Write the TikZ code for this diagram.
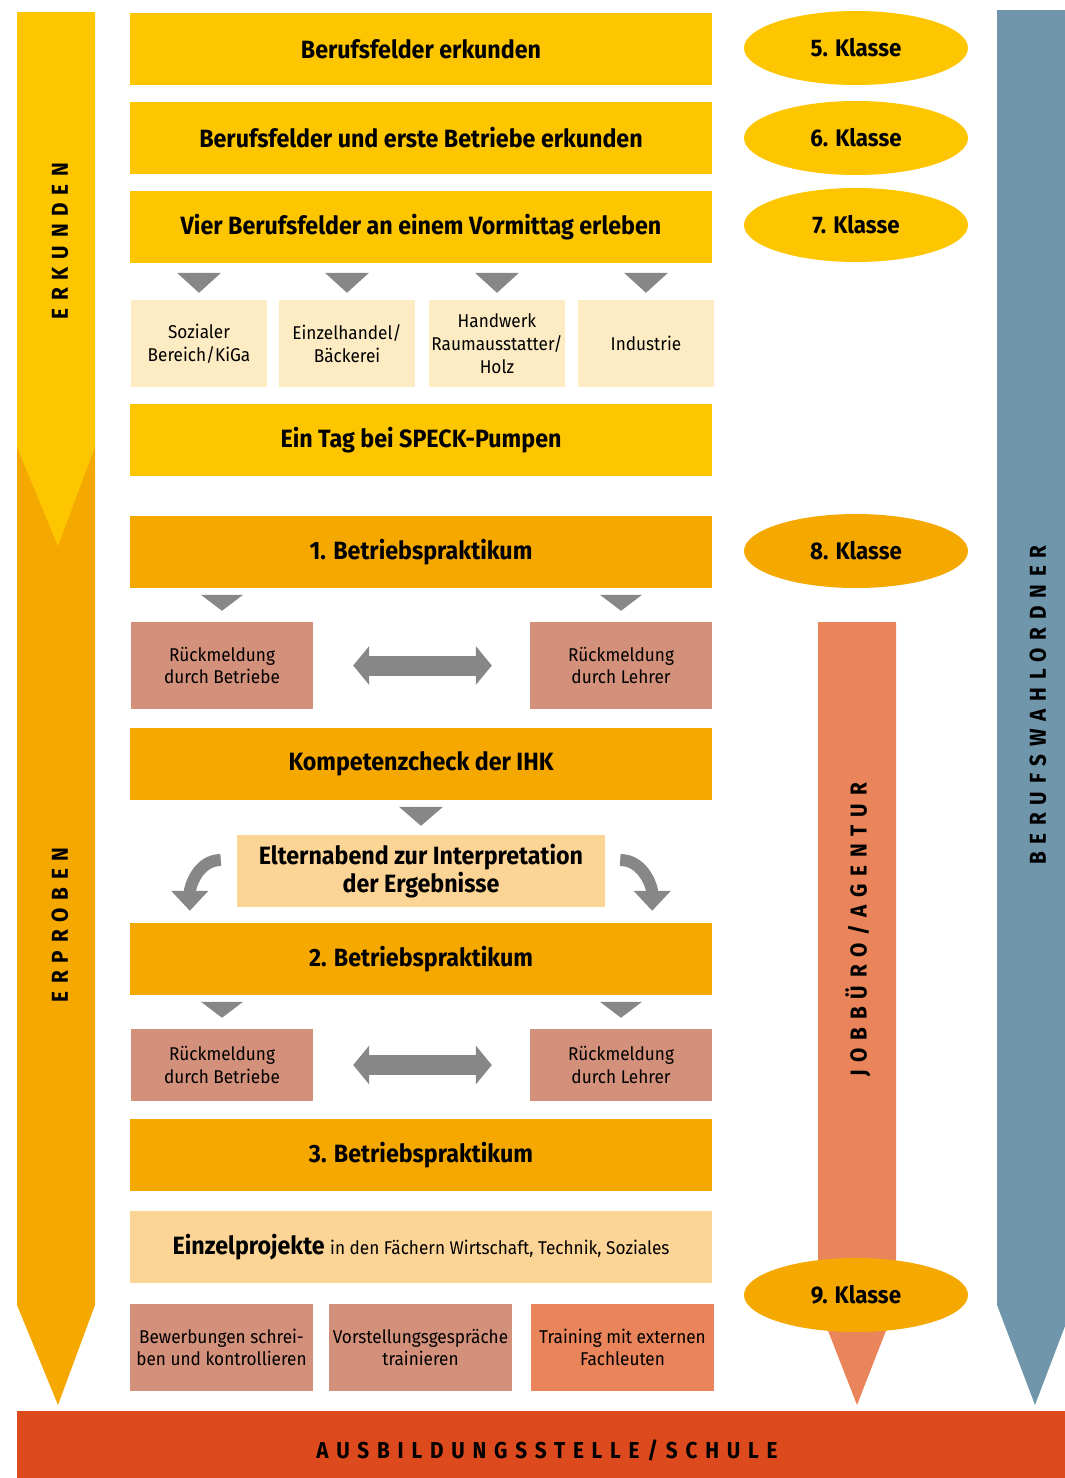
\documentclass[tikz,border=0pt]{standalone}
\usepackage{fontspec}
\setmainfont{Fira Sans}[FakeStretch=0.93]
\newfontfamily\spacedfont{Fira Sans}[FakeStretch=0.9,LetterSpace=34]
\usetikzlibrary{arrows.meta,shapes.geometric}

\definecolor{cYellow}{RGB}{253,198,0}
\definecolor{cOrange}{RGB}{245,168,0}
\definecolor{cPale}{RGB}{253,235,195}
\definecolor{cLight}{RGB}{252,212,149}
\definecolor{cSalmon}{RGB}{211,144,123}
\definecolor{cCoral}{RGB}{234,132,90}
\definecolor{cBlue}{RGB}{112,150,172}
\definecolor{cRed}{RGB}{221,74,30}
\definecolor{cGray}{RGB}{135,135,135}

\tikzset{
  bar/.style={rectangle, minimum width=582pt, minimum height=72pt, inner sep=0pt,
    align=center, font=\bfseries\fontsize{25}{28}\selectfont},
  feld/.style={rectangle, fill=cPale, minimum width=136pt, minimum height=87pt, inner sep=0pt,
    align=center, font=\fontsize{18.5}{23}\selectfont},
  meldung/.style={rectangle, fill=cSalmon, minimum width=182pt, inner sep=0pt,
    align=center, font=\fontsize{18.5}{22.5}\selectfont},
  klasse/.style={ellipse, minimum width=224pt, minimum height=74pt, inner sep=0pt,
    font=\bfseries\fontsize{24}{26}\selectfont},
  sidelabel/.style={inner sep=0pt, font=\spacedfont\bfseries\fontsize{23}{26}\selectfont},
  tri/.style={fill=cGray},
  dbl/.style={draw=cGray, line width=20pt,
    {Triangle[width=38pt,length=16pt]}-{Triangle[width=38pt,length=16pt]}},
  curvearrow/.style={draw=cGray, line width=12pt, -{Triangle[width=36pt,length=20pt]}}
}

\begin{document}
\begin{tikzpicture}[x=1pt,y=-1pt]
\useasboundingbox (0,0) rectangle (1065,1478);

%Shape: side arrows
\fill[cOrange] (17,447) -- (95,447) -- (95,1305) -- (58,1405) -- (17,1305) -- cycle;
\fill[cYellow] (17,12) -- (95,12) -- (95,447) -- (58,546) -- (17,447) -- cycle;
\fill[cCoral] (818,622) -- (896,622) -- (896,1305) -- (857,1405) -- (818,1305) -- cycle;
\fill[cBlue] (997,10) -- (1073,10) -- (1073,1305) -- (1035,1405) -- (997,1305) -- cycle;
%Shape: bottom bar
\fill[cRed] (17,1411) rectangle (1073,1478);

% Text Node
\node[sidelabel, rotate=90] (erk) at (60,241) {ERKUNDEN};
\node[sidelabel, rotate=90] (erp) at (60,925) {ERPROBEN};
\node[sidelabel, rotate=90] (job) at (858,930) {JOBBÜRO/AGENTUR};
\node[sidelabel, rotate=90] (ord) at (1038,705) {BERUFSWAHLORDNER};
\node[sidelabel] (ziel) at (547,1450) {AUSBILDUNGSSTELLE/SCHULE};

%Shape: Ellipses
\node[klasse, fill=cYellow] (k5) at (856,48) {5. Klasse};
\node[klasse, fill=cYellow] (k6) at (856,138) {6. Klasse};
\node[klasse, fill=cYellow] (k7) at (856,225) {7. Klasse};
\node[klasse, fill=cOrange] (k8) at (856,551) {8. Klasse};
\node[klasse, fill=cOrange] (k9) at (856,1295) {9. Klasse};

%Shape: main column
\node[bar, fill=cYellow] (b1) at (421,49) {Berufsfelder erkunden};
\node[bar, fill=cYellow] (b2) at (421,138) {Berufsfelder und erste Betriebe erkunden};
\node[bar, fill=cYellow] (b3) at (421,227) {Vier Berufsfelder an einem Vormittag erleben};

\node[feld] (s1) at (199,343.5) {Sozialer\\Bereich/KiGa};
\node[feld] (s2) at (347,343.5) {Einzelhandel/\\Bäckerei};
\node[feld] (s3) at (497,343.5) {Handwerk\\Raumausstatter/\\Holz};
\node[feld] (s4) at (646,343.5) {Industrie};

\fill[tri] ([yshift=7pt]s1.north) -- ++(-22,-20) -- ++(44,0) -- cycle;
\fill[tri] ([yshift=7pt]s2.north) -- ++(-22,-20) -- ++(44,0) -- cycle;
\fill[tri] ([yshift=7pt]s3.north) -- ++(-22,-20) -- ++(44,0) -- cycle;
\fill[tri] ([yshift=7pt]s4.north) -- ++(-22,-20) -- ++(44,0) -- cycle;

\node[bar, fill=cYellow] (b4) at (421,440) {Ein Tag bei SPECK-Pumpen};
\node[bar, fill=cOrange] (b5) at (421,552) {1. Betriebspraktikum};

\node[meldung, minimum height=87pt] (rb1) at (222,665.5) {Rückmeldung\\durch Betriebe};
\node[meldung, minimum height=87pt] (rl1) at (621,665.5) {Rückmeldung\\durch Lehrer};
\fill[tri] ([yshift=11pt]rb1.north) -- ++(-21,-16) -- ++(42,0) -- cycle;
\fill[tri] ([yshift=11pt]rl1.north) -- ++(-21,-16) -- ++(42,0) -- cycle;
\draw[dbl, shorten <=40pt, shorten >=38pt] (rb1) -- (rl1);

\node[bar, fill=cOrange] (b6) at (421,764) {Kompetenzcheck der IHK};
\node[bar, fill=cLight, minimum width=368pt] (eltern) at (421,871)
  {Elternabend zur Interpretation\\der Ergebnisse};
\fill[tri] ([yshift=9pt]eltern.north) -- ++(-22,-19) -- ++(44,0) -- cycle;

\node[bar, fill=cOrange] (b7) at (421,959) {2. Betriebspraktikum};
\draw[curvearrow] ([xshift=-16pt,yshift=11pt]eltern.west) to[out=180,in=90] ([xshift=60pt,yshift=12pt]b7.north west);
\draw[curvearrow] ([xshift=15pt,yshift=11pt]eltern.east) to[out=0,in=90] ([xshift=-60pt,yshift=12pt]b7.north east);

\node[meldung, minimum height=72pt] (rb2) at (222,1065) {Rückmeldung\\durch Betriebe};
\node[meldung, minimum height=72pt] (rl2) at (621,1065) {Rückmeldung\\durch Lehrer};
\fill[tri] ([yshift=11pt]rb2.north) -- ++(-21,-16) -- ++(42,0) -- cycle;
\fill[tri] ([yshift=11pt]rl2.north) -- ++(-21,-16) -- ++(42,0) -- cycle;
\draw[dbl, shorten <=40pt, shorten >=38pt] (rb2) -- (rl2);

\node[bar, fill=cOrange] (b8) at (421,1155) {3. Betriebspraktikum};
\node[bar, fill=cLight] (proj) at (421,1247)
  {Einzelprojekte {\mdseries\fontsize{18.5}{20}\selectfont in den Fächern Wirtschaft, Technik, Soziales}};

\node[meldung, minimum width=183pt, minimum height=87pt] (t1) at (221.5,1347.5) {Bewerbungen schrei-\\ben und kontrollieren};
\node[meldung, minimum width=183pt, minimum height=87pt] (t2) at (420.5,1347.5) {Vorstellungsgespräche\\trainieren};
\node[meldung, fill=cCoral, minimum width=183pt, minimum height=87pt] (t3) at (622.5,1347.5) {Training mit externen\\Fachleuten};

\end{tikzpicture}
\end{document}
